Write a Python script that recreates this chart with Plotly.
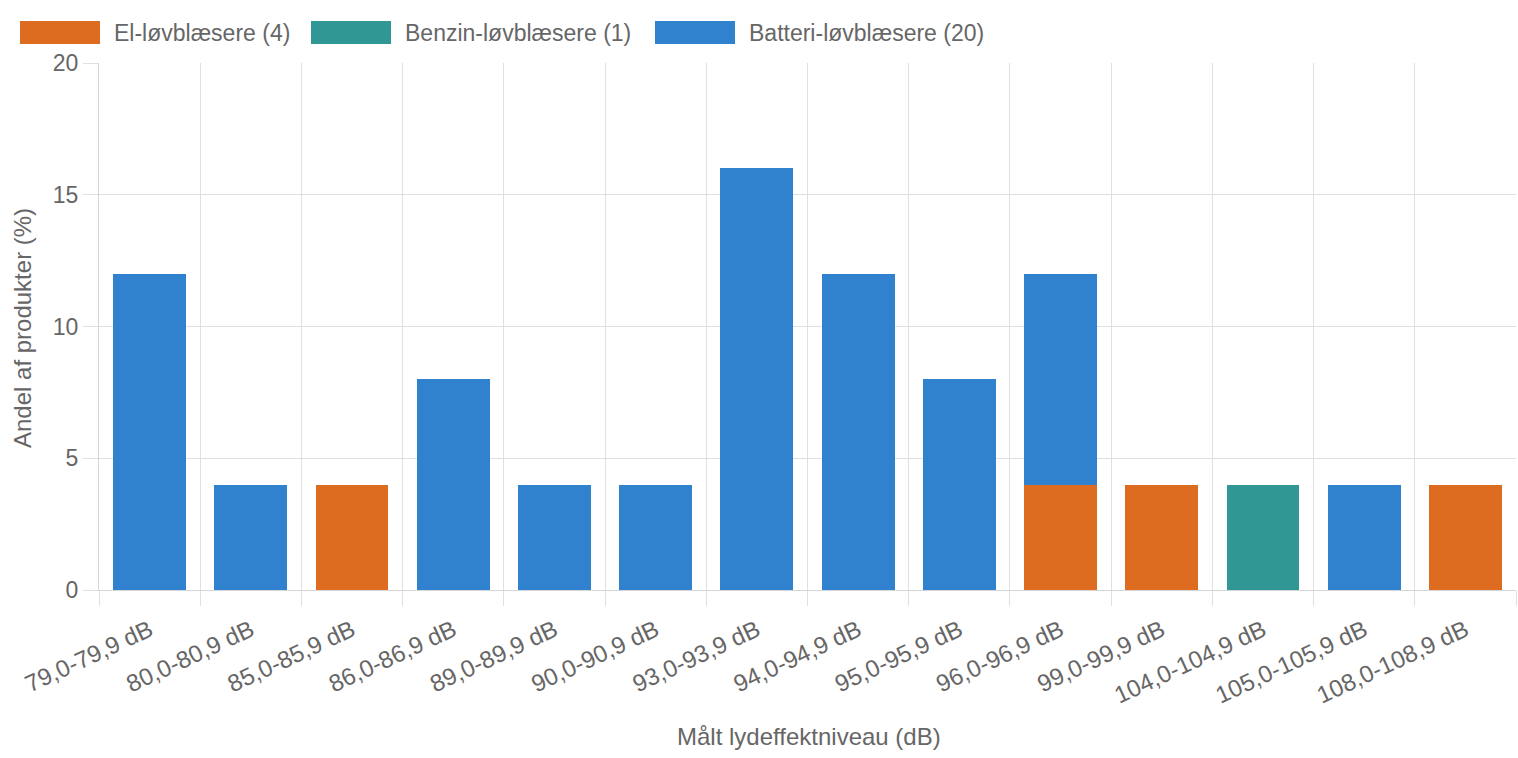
import plotly.graph_objects as go

categories = ["79,0-79,9 dB", "80,0-80,9 dB", "85,0-85,9 dB", "86,0-86,9 dB",
              "89,0-89,9 dB", "90,0-90,9 dB", "93,0-93,9 dB", "94,0-94,9 dB",
              "95,0-95,9 dB", "96,0-96,9 dB", "99,0-99,9 dB", "104,0-104,9 dB",
              "105,0-105,9 dB", "108,0-108,9 dB"]
el_values =      [0, 0, 4, 0, 0, 0, 0, 0, 0, 4, 4, 0, 0, 4]
benzin_values =  [0, 0, 0, 0, 0, 0, 0, 0, 0, 0, 0, 4, 0, 0]
batteri_values = [12, 4, 0, 8, 4, 4, 16, 12, 8, 8, 0, 0, 4, 0]
series_names = ["El-løvblæsere (4)", "Benzin-løvblæsere (1)", "Batteri-løvblæsere (20)"]
series_colors = ["#DD6B20", "#319795", "#3182CE"]
y_ticks = [0, 5, 10, 15, 20]

W, H = 1518, 758
L, R, T, B = 99, 2, 63, 168
FONT = "Liberation Sans, Arial, Helvetica, sans-serif"
TXT = "#666666"
GRID = "#e0e0e0"

def px(x):
    return (x - L) / (W - L - R)

def py(y):
    return (H - B - y) / (H - T - B)

xs = list(range(len(categories)))
fig = go.Figure()
for name, vals, col in zip(series_names, [el_values, benzin_values, batteri_values], series_colors):
    fig.add_trace(go.Bar(x=xs, y=vals, name=name, marker=dict(color=col, line=dict(width=0)),
                         width=0.72, showlegend=False))

# custom legend
legend_boxes = [(20, 100, 112), (311, 391, 403), (655, 735, 747)]
for (x0, x1, tx), name, col in zip(legend_boxes, series_names, series_colors):
    fig.add_shape(type="rect", xref="paper", yref="paper", x0=px(x0), x1=px(x1),
                  y0=py(44), y1=py(21), fillcolor=col, line=dict(width=0))
    fig.add_annotation(text=name, xref="paper", yref="paper", x=px(tx), y=py(32.5),
                       xanchor="left", yanchor="middle", showarrow=False,
                       font=dict(size=23, color=TXT, family=FONT))

# axis titles
fig.add_annotation(text="Målt lydeffektniveau (dB)", xref="paper", yref="paper",
                   x=px(809), y=py(737), xanchor="center", yanchor="middle", showarrow=False,
                   font=dict(size=24, color=TXT, family=FONT))
fig.add_annotation(text="Andel af produkter (%)", xref="paper", yref="paper",
                   x=px(22), y=py(328), xanchor="center", yanchor="middle", showarrow=False,
                   textangle=-90, font=dict(size=24, color=TXT, family=FONT))

fig.update_layout(
    width=W, height=H, barmode="stack", bargap=0,
    margin=dict(l=L, r=R, t=T, b=B, pad=0),
    paper_bgcolor="white", plot_bgcolor="white",
    font=dict(family=FONT, color=TXT, size=22),
    xaxis=dict(range=[-0.5, len(categories) - 0.5], tickmode="array", tickvals=xs,
               ticktext=categories, tickangle=-25, showgrid=False, ticks="",
               ticklabelstandoff=16,
               showline=True, linecolor="#d5d5d5", linewidth=1, zeroline=False,
               tickfont=dict(size=24, color=TXT),
               minor=dict(tick0=-0.5, dtick=1, showgrid=True, gridcolor=GRID, gridwidth=1,
                          ticks="outside", ticklen=15, tickcolor=GRID, tickwidth=1)),
    yaxis=dict(range=[0, 20], tickmode="array", tickvals=y_ticks, showgrid=True,
               gridcolor=GRID, gridwidth=1, ticks="outside", ticklen=15, tickcolor=GRID,
               showline=True, linecolor="#d5d5d5", zeroline=False,
               tickfont=dict(size=23, color=TXT)),
)

fig.write_html("out.html")
